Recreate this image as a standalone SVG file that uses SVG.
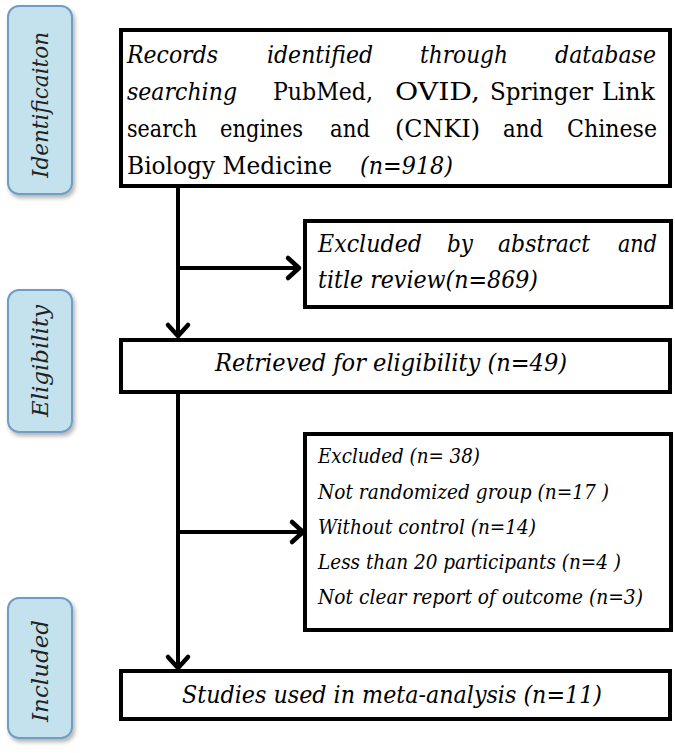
<svg xmlns="http://www.w3.org/2000/svg" width="675" height="753" viewBox="0 0 675 753">
<style>
.stage{fill:#c4e2ee;stroke:#6f9dc6;stroke-width:2}
.stxt{font-family:'DejaVu Serif',serif;font-style:italic;font-size:22px;fill:#222;text-anchor:middle}
.box{fill:#fff;stroke:#000;stroke-width:4}
.t{font-family:'DejaVu Serif',serif;font-size:25px;fill:#000}
.i{font-style:italic}
.big{font-size:24px}
.mid{font-size:20px}
.line{stroke:#000;stroke-width:4;fill:none}
.head{stroke:#000;stroke-width:4.5;fill:none;stroke-linecap:round;stroke-linejoin:round}
</style>
<defs>
<filter id="sh" x="-20%" y="-10%" width="150%" height="130%">
<feDropShadow dx="2" dy="3" stdDeviation="2" flood-color="#000" flood-opacity="0.3"/>
</filter>
</defs>
<rect width="675" height="753" fill="#fff"/>

<g id="stage-identification">
<rect class="stage" x="8" y="6" width="64" height="188" rx="11" filter="url(#sh)"/>
<text class="stxt" transform="translate(48,105) rotate(-90)" textLength="146" lengthAdjust="spacingAndGlyphs">Identificaiton</text>
</g>
<g id="stage-eligibility">
<rect class="stage" x="8" y="290" width="64" height="142" rx="11" filter="url(#sh)"/>
<text class="stxt" transform="translate(48,361) rotate(-90)" textLength="112" lengthAdjust="spacingAndGlyphs">Eligibility</text>
</g>
<g id="stage-included">
<rect class="stage" x="8" y="598" width="64" height="140" rx="11" filter="url(#sh)"/>
<text class="stxt" transform="translate(48,671) rotate(-90)" textLength="102" lengthAdjust="spacingAndGlyphs">Included</text>
</g>

<g id="connectors">
<line class="line" x1="178" y1="186" x2="178" y2="337"/>
<line class="line" x1="178" y1="268" x2="298" y2="268"/>
<polyline class="head" points="288,258 299,268 288,278"/>
<polyline class="head" points="168,325 178,336 188,325"/>
<line class="line" x1="178" y1="392" x2="178" y2="668"/>
<line class="line" x1="178" y1="532" x2="302" y2="532"/>
<polyline class="head" points="292,522 303,532 292,542"/>
<polyline class="head" points="168,657 178,668 188,657"/>
</g>

<g id="records">
<rect class="box" x="121" y="30" width="549" height="156"/>
<text class="t i" x="127" y="63" textLength="91" lengthAdjust="spacingAndGlyphs">Records</text>
<text class="t i" x="267" y="63" textLength="106" lengthAdjust="spacingAndGlyphs">identified</text>
<text class="t i" x="420" y="63" textLength="88" lengthAdjust="spacingAndGlyphs">through</text>
<text class="t i" x="555" y="63" textLength="101" lengthAdjust="spacingAndGlyphs">database</text>
<text class="t i" x="127" y="100" textLength="110" lengthAdjust="spacingAndGlyphs">searching</text>
<text class="t" x="273" y="100" textLength="100" lengthAdjust="spacingAndGlyphs">PubMed,</text>
<text class="t" x="395" y="100" textLength="85" lengthAdjust="spacingAndGlyphs">OVID,</text>
<text class="t" x="490" y="100" textLength="103" lengthAdjust="spacingAndGlyphs">Springer</text>
<text class="t" x="602" y="100" textLength="53" lengthAdjust="spacingAndGlyphs">Link</text>
<text class="t" x="127" y="137" textLength="70" lengthAdjust="spacingAndGlyphs">search</text>
<text class="t" x="220" y="137" textLength="83" lengthAdjust="spacingAndGlyphs">engines</text>
<text class="t" x="330" y="137" textLength="40" lengthAdjust="spacingAndGlyphs">and</text>
<text class="t" x="395" y="137" textLength="85" lengthAdjust="spacingAndGlyphs">(CNKI)</text>
<text class="t" x="503" y="137" textLength="40" lengthAdjust="spacingAndGlyphs">and</text>
<text class="t" x="567" y="137" textLength="90" lengthAdjust="spacingAndGlyphs">Chinese</text>
<text class="t" x="127" y="174" textLength="205" lengthAdjust="spacingAndGlyphs">Biology Medicine</text>
<text class="t i" x="360" y="174" textLength="93" lengthAdjust="spacingAndGlyphs">(n=918)</text>
</g>

<g id="excluded-abstract">
<rect class="box" x="305" y="221" width="366" height="86"/>
<text class="t i" x="318" y="252" textLength="104" lengthAdjust="spacingAndGlyphs">Excluded</text>
<text class="t i" x="447" y="252" textLength="26" lengthAdjust="spacingAndGlyphs">by</text>
<text class="t i" x="498" y="252" textLength="92" lengthAdjust="spacingAndGlyphs">abstract</text>
<text class="t i" x="618" y="252" textLength="39" lengthAdjust="spacingAndGlyphs">and</text>
<text class="t i" x="318" y="288" textLength="220" lengthAdjust="spacingAndGlyphs">title review(n=869)</text>
</g>

<g id="retrieved">
<rect class="box" x="121" y="340" width="549" height="52"/>
<text class="t i big" x="215" y="371" textLength="352" lengthAdjust="spacingAndGlyphs">Retrieved for eligibility (n=49)</text>
</g>

<g id="excluded-list">
<rect class="box" x="305" y="434" width="366" height="196"/>
<text class="t i mid" x="318" y="463" textLength="162" lengthAdjust="spacingAndGlyphs">Excluded (n= 38)</text>
<text class="t i mid" x="318" y="499" textLength="291" lengthAdjust="spacingAndGlyphs">Not randomized group (n=17 )</text>
<text class="t i mid" x="318" y="534" textLength="218" lengthAdjust="spacingAndGlyphs">Without control (n=14)</text>
<text class="t i mid" x="318" y="569" textLength="303" lengthAdjust="spacingAndGlyphs">Less than 20 participants (n=4 )</text>
<text class="t i mid" x="318" y="604" textLength="325" lengthAdjust="spacingAndGlyphs">Not clear report of outcome (n=3)</text>
</g>

<g id="studies">
<rect class="box" x="121" y="671" width="549" height="48"/>
<text class="t i big" x="182" y="703" textLength="420" lengthAdjust="spacingAndGlyphs">Studies used in meta-analysis (n=11)</text>
</g>
</svg>
